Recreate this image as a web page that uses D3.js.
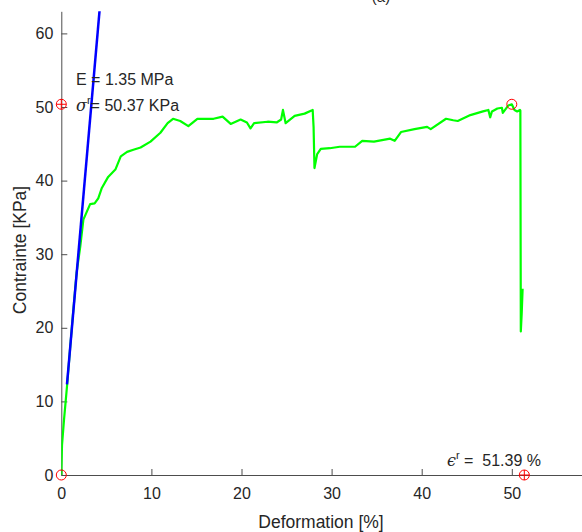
<!DOCTYPE html>
<html><head><meta charset="utf-8">
<script src="https://cdn.jsdelivr.net/npm/d3@7"></script>
<style>body{margin:0;background:#fff}svg{display:block}text{font-family:"Liberation Sans",Arial,sans-serif;fill:#262626;white-space:pre}</style>
</head><body><svg id="c" width="582" height="532"></svg>
<script>
// strain (%) of the measured curve
const strain = [0,0.08,0.3,0.63,1.2,1.7,2.1,2.45,3.2,3.7,4.1,4.5,5.2,6.0,6.6,7.3,8.0,8.8,9.9,11.0,11.8,12.4,13.2,14.1,15.1,16.9,17.9,18.8,19.9,20.6,21.0,21.4,22.9,23.9,24.4,24.6,24.9,25.9,27.0,27.9,28.0,28.1,28.4,28.8,29.8,30.9,32.6,33.4,34.7,36.5,37.0,37.7,39.2,40.6,41.0,42.7,43.5,44.0,45.4,46.8,47.4,47.6,47.8,48.4,48.9,49.0,49.6,50.0,50.3,50.6,50.9,50.95,51.0,51.1,51.2];
// stress (KPa) of the measured curve
const stress = [0,4.1,7.5,12.0,20.5,27.5,31.0,34.7,36.8,36.9,37.6,39.0,40.5,41.5,43.3,43.9,44.2,44.5,45.3,46.5,47.8,48.4,48.1,47.4,48.4,48.4,48.7,47.7,48.3,47.9,47.1,47.8,48.0,47.9,48.3,49.6,47.8,48.8,49.1,49.6,47.3,41.7,43.6,44.3,44.4,44.6,44.6,45.4,45.3,45.7,45.4,46.6,47.0,47.3,47.0,48.4,48.2,48.1,48.9,49.4,49.6,48.6,49.4,49.8,49.9,49.2,50.2,50.37,49.6,49.4,49.6,49.5,19.5,22.0,25.3];
// elastic modulus fit line (strain %, stress KPa)
const fitStrain = [0.63, 4.31];
const fitStress = [12.3, 64];
// markers
const openMarks = [[0,0],[50.0,50.37]];
const crossMarks = [[0,50.37],[51.39,0]];
const xTicks = [0,10,20,30,40,50];
const yTicks = [0,10,20,30,40,50,60];

const svg = d3.select("#c");
const x = d3.scaleLinear().domain([0,58]).range([61.3, 61.3+58*9.01]);
const y = d3.scaleLinear().domain([0,63]).range([475, 475-63*7.36]);

svg.append("defs").append("clipPath").attr("id","clip").append("rect")
  .attr("x",61.3).attr("y",y(63)).attr("width",600).attr("height",475-y(63));

// title (cut off at top)
svg.append("text").attr("x",381).attr("y",1.5).attr("text-anchor","middle")
  .style("font-size","15px").text("(a)");

// axes
const xa = svg.append("g").attr("transform","translate(0,475)")
  .call(d3.axisBottom(x).tickValues(xTicks).tickSizeInner(-6).tickSizeOuter(0).tickPadding(10));
const ya = svg.append("g").attr("transform","translate(61.3,0)")
  .call(d3.axisLeft(y).tickValues(yTicks).tickSizeInner(-6).tickSizeOuter(0).tickPadding(8));
[xa,ya].forEach(a=>{
  a.select(".domain").attr("stroke","#4d4d4d").attr("stroke-width",1);
  a.selectAll(".tick line").attr("stroke","#4d4d4d");
  a.selectAll(".tick text").style("font-size","16px").attr("fill","#262626")
   .style("font-family","Liberation Sans, Arial, sans-serif");
});
xa.selectAll(".tick text").attr("dy","0.9em");

// axis labels
svg.append("text").attr("x",321).attr("y",528).attr("text-anchor","middle")
  .style("font-size","17.5px").text("Deformation [%]");
svg.append("text").attr("transform","translate(26,250) rotate(-90)").attr("text-anchor","middle")
  .style("font-size","17.5px").text("Contrainte [KPa]");

const plot = svg.append("g").attr("clip-path","url(#clip)");

// measured curve
const pts = strain.map((s,i)=>[s,stress[i]]);
plot.append("path").datum(pts)
  .attr("d", d3.line().x(d=>x(d[0])).y(d=>y(d[1])))
  .attr("fill","none").attr("stroke","#00ff00").attr("stroke-width",2.2).attr("stroke-linejoin","round");

// fit line
plot.append("path").datum(fitStrain.map((s,i)=>[s,fitStress[i]]))
  .attr("d", d3.line().x(d=>x(d[0])).y(d=>y(d[1])))
  .attr("fill","none").attr("stroke","#0000ff").attr("stroke-width",2.5);

// annotations
svg.append("text").attr("x",76).attr("y",85).style("font-size","16px").text("E = 1.35 MPa");
const t2 = svg.append("text").attr("x",76).attr("y",111).style("font-size","16px");
t2.append("tspan").style("font-style","italic").style("font-family","DejaVu Serif, serif").text("σ");
t2.append("tspan").attr("dy",-7).style("font-size","11px").text("r");
t2.append("tspan").attr("dy",7).text("= 50.37 KPa");
const t3 = svg.append("text").attr("x",447).attr("y",466).style("font-size","16px");
t3.append("tspan").style("font-style","italic").style("font-family","DejaVu Serif, serif").text("ϵ");
t3.append("tspan").attr("dy",-7).style("font-size","11px").text("r");
t3.append("tspan").attr("dy",7).text(" =  51.39 %");

// markers
const mk = svg.append("g").attr("stroke","#ff0000").attr("fill","none").attr("stroke-width",1);
openMarks.forEach(m=>{
  mk.append("circle").attr("cx",x(m[0])).attr("cy",y(m[1])).attr("r",5);
});
crossMarks.forEach(m=>{
  const cx=x(m[0]), cy=y(m[1]);
  mk.append("circle").attr("cx",cx).attr("cy",cy).attr("r",5);
  mk.append("line").attr("x1",cx-5).attr("x2",cx+5).attr("y1",cy).attr("y2",cy);
  mk.append("line").attr("x1",cx).attr("x2",cx).attr("y1",cy-5).attr("y2",cy+5);
});
</script></body></html>
